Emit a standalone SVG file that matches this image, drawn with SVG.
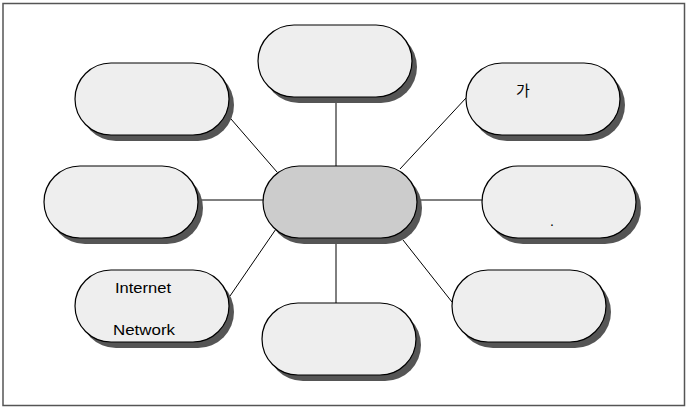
<svg xmlns="http://www.w3.org/2000/svg" width="688" height="408" viewBox="0 0 688 408">
<style>
.sh{fill:#555555;stroke:none}
.nd{fill:#eeeeee;stroke:#000000;stroke-width:1.2}
.ctr{fill:#cccccc;stroke:#000000;stroke-width:1.2}
.ln{stroke:#000000;stroke-width:1;fill:none}
.t{font-family:"Liberation Sans",Arial,sans-serif;font-size:14px;fill:#000000}
.k{font-family:"Noto Sans CJK KR","Liberation Sans",sans-serif;font-size:15px;fill:#000000}
</style>
<defs>
<rect id="pill" x="0" y="0" width="154" height="72" rx="36" ry="36"/>
</defs>
<rect x="3" y="3.5" width="681.5" height="402" fill="#ffffff" stroke="#555555" stroke-width="1.5"/>
<g id="connectors">
<line class="ln" x1="336" y1="98" x2="336" y2="166"/>
<line class="ln" x1="231" y1="119" x2="277" y2="172"/>
<line class="ln" x1="466" y1="98" x2="400" y2="169"/>
<line class="ln" x1="198" y1="200" x2="264" y2="200"/>
<line class="ln" x1="418" y1="200" x2="484" y2="200"/>
<line class="ln" x1="276" y1="229" x2="230" y2="296"/>
<line class="ln" x1="336" y1="238" x2="336" y2="303"/>
<line class="ln" x1="403" y1="240" x2="452" y2="302"/>
</g>
<g id="node-top">
<use href="#pill" class="sh" x="263" y="31"/>
<use href="#pill" class="nd" x="258" y="25"/>
</g>
<g id="node-top-left">
<use href="#pill" class="sh" x="80" y="69"/>
<use href="#pill" class="nd" x="75" y="63"/>
</g>
<g id="node-top-right">
<use href="#pill" class="sh" x="471" y="69"/>
<use href="#pill" class="nd" x="466" y="63"/>
<text class="k" x="516" y="96">가</text>
</g>
<g id="node-left">
<use href="#pill" class="sh" x="49" y="172"/>
<use href="#pill" class="nd" x="44" y="166"/>
</g>
<g id="node-center">
<use href="#pill" class="sh" x="268" y="172"/>
<use href="#pill" class="ctr" x="263" y="166"/>
</g>
<g id="node-right">
<use href="#pill" class="sh" x="487" y="172"/>
<use href="#pill" class="nd" x="482" y="166"/>
<text class="t" x="550" y="226">.</text>
</g>
<g id="node-bottom-left">
<use href="#pill" class="sh" x="80" y="276"/>
<use href="#pill" class="nd" x="75" y="270"/>
<text class="t" x="115" y="293" textLength="56" lengthAdjust="spacingAndGlyphs">Internet</text>
<text class="t" x="113" y="335" textLength="62" lengthAdjust="spacingAndGlyphs">Network</text>
</g>
<g id="node-bottom">
<use href="#pill" class="sh" x="267" y="309"/>
<use href="#pill" class="nd" x="262" y="303"/>
</g>
<g id="node-bottom-right">
<use href="#pill" class="sh" x="457" y="276"/>
<use href="#pill" class="nd" x="452" y="270"/>
</g>
</svg>
